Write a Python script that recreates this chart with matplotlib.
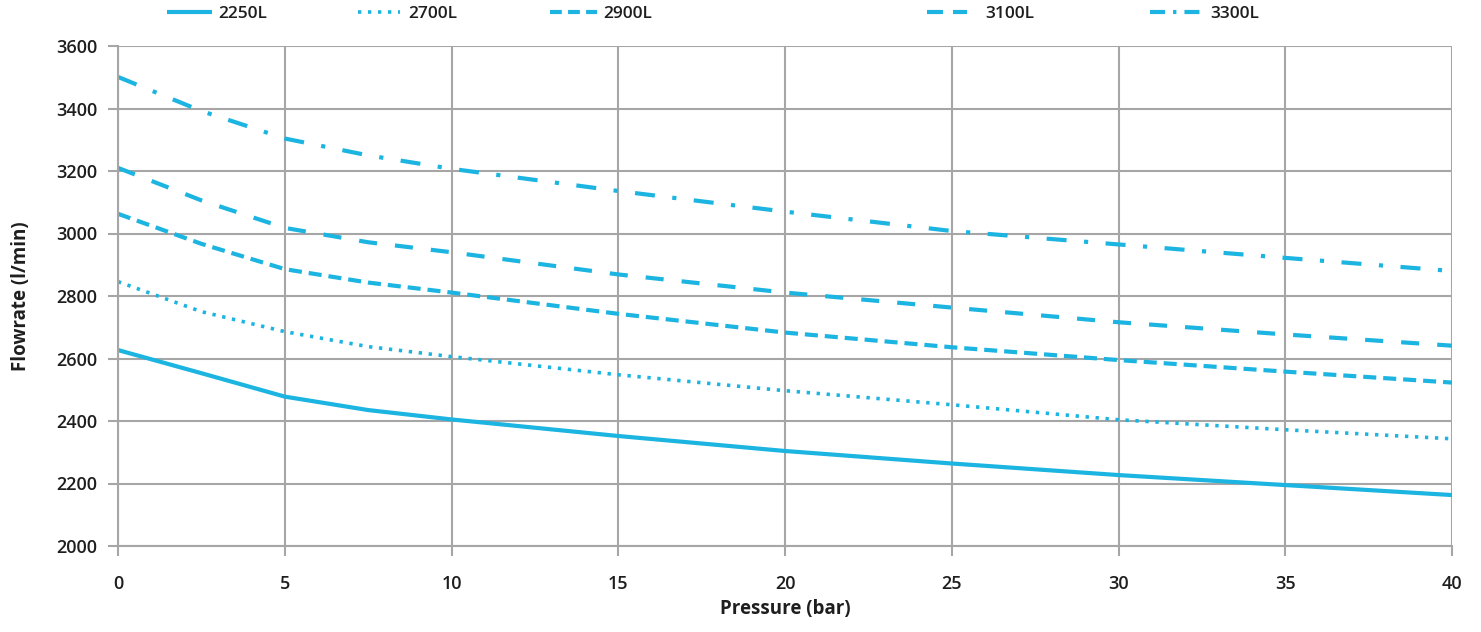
import matplotlib
matplotlib.use("Agg")
import matplotlib.pyplot as plt
from matplotlib.lines import Line2D

pressure = [0, 2.5, 5, 7.5, 10, 15, 20, 25, 30, 35, 40]
flow_2250 = [2627, 2553, 2478, 2435, 2405, 2352, 2304, 2264, 2227, 2195, 2163]
flow_2700 = [2846, 2750, 2686, 2638, 2606, 2548, 2497, 2452, 2404, 2372, 2343]
flow_2900 = [3063, 2967, 2886, 2843, 2811, 2743, 2683, 2636, 2595, 2558, 2523]
flow_3100 = [3210, 3106, 3018, 2972, 2940, 2869, 2811, 2763, 2716, 2677, 2641]
flow_3300 = [3501, 3392, 3304, 3250, 3207, 3136, 3070, 3008, 2965, 2922, 2880]
labels = ["2250L", "2700L", "2900L", "3100L", "3300L"]
x_ticks = [0, 5, 10, 15, 20, 25, 30, 35, 40]
y_ticks = [2000, 2200, 2400, 2600, 2800, 3000, 3200, 3400, 3600]

plt.rcParams['font.family'] = ['Open Sans', 'DejaVu Sans']
plt.rcParams['lines.scale_dashes'] = False

color = "#1cb4e0"
grid_c = "#a6a6a6"
text_c = "#1e1e1e"

fig = plt.figure(figsize=(14.81, 6.32), dpi=100)
ax = fig.add_axes([118/1481, 1-546/632, (1452-118)/1481, 500/632])

styles = [
    dict(linestyle='-', lw=3.0),
    dict(linestyle=(0, (2.4, 4.8)), lw=2.6),
    dict(linestyle=(0, (9.4, 5.0)), lw=3.0),
    dict(linestyle=(0, (13.0, 13.0)), lw=3.0),
    dict(linestyle=(0, (14.4, 12.6, 3.0, 12.6)), lw=3.0),
]
legend_styles = [
    dict(linestyle='-', lw=3.0),
    dict(linestyle=(0, (2.4, 4.8)), lw=2.6),
    dict(linestyle=(0, (8.5, 4.5)), lw=3.0),
    dict(linestyle=(0, (11.5, 7.2)), lw=3.0),
    dict(linestyle=(0, (10.8, 5.8, 2.4, 5.8)), lw=3.0),
]
series = [flow_2250, flow_2700, flow_2900, flow_3100, flow_3300]
for s, st, lab in zip(series, styles, labels):
    ax.plot(pressure, s, color=color, label=lab, solid_capstyle='butt',
            dash_capstyle='butt', **st)

ax.set_xlim(0, 40)
ax.set_ylim(2000, 3600)
ax.set_xticks(x_ticks)
ax.set_yticks(y_ticks)
ax.grid(True, color=grid_c, lw=1.5)
ax.set_axisbelow(True)
for side in ['top', 'right']:
    ax.spines[side].set_visible(False)
for side in ['left', 'bottom']:
    ax.spines[side].set_color(grid_c)
    ax.spines[side].set_linewidth(1.5)
ax.tick_params(axis='both', colors=grid_c, length=7, width=1.5, labelcolor=text_c,
               labelsize=13)
ax.tick_params(axis='x', pad=14)
ax.tick_params(axis='y', pad=8)
for t in ax.get_xticklabels() + ax.get_yticklabels():
    t.set_fontweight('semibold')

ax.set_xlabel("Pressure (bar)", fontsize=13.5, fontweight='bold', color=text_c, labelpad=4)
ax.set_ylabel("Flowrate (l/min)", fontsize=13.5, fontweight='bold', color=text_c, labelpad=18)

# legend entries placed along the top (pixel positions of handle start, handle length, text start)
fs = 12.5
px_per_fs = fs * 100 / 72
starts = [167, 358, 550, 927, 1150]
lengths = [45, 42, 47, 40, 52]
text_x = [218, 408, 603, 985, 1210]
for st, lab, xs, L, tx in zip(legend_styles, labels, starts, lengths, text_x):
    proxy = Line2D([], [], color=color, solid_capstyle='butt', dash_capstyle='butt', **st)
    fig.legend([proxy], [lab], loc='center left', bbox_to_anchor=(xs/1481, 1-14/632),
               frameon=False, handlelength=L/px_per_fs,
               handletextpad=(tx - xs - L)/px_per_fs, borderpad=0, borderaxespad=0,
               labelcolor=text_c,
               prop=dict(family=['Open Sans', 'DejaVu Sans'], size=fs, weight='semibold'))

fig.savefig("out.png", dpi=100)
